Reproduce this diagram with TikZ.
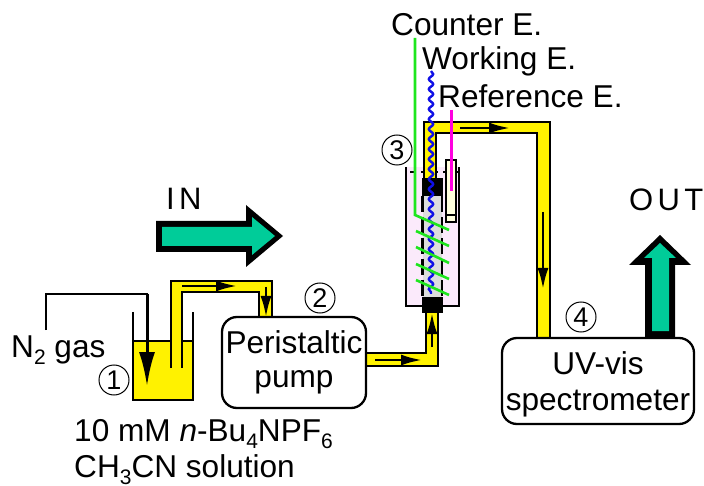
\documentclass[tikz,border=0pt]{standalone}
\usepackage{fontspec}
\setmainfont{Liberation Sans}
\newfontfamily\spacedA[LetterSpace=14]{Liberation Sans}
\usetikzlibrary{decorations.pathmorphing,arrows.meta}
\definecolor{teal1}{HTML}{00CC99}
\definecolor{pink1}{HTML}{FBEAFB}
\definecolor{cream}{HTML}{FFFFDD}
\definecolor{glass}{HTML}{DDDDDD}
\definecolor{coil}{HTML}{1EE61E}
\definecolor{wire}{HTML}{1010E6}
\definecolor{refw}{HTML}{FF00E0}
\newcommand{\subtxt}[1]{\raisebox{-7pt}{\fontsize{21}{21}\selectfont #1}}
\tikzset{
  x=1pt,y=-1pt,
  wall/.style={draw=black,line width=2.3pt},
  tubeedge/.style={draw=black,line width=2.4pt,line join=miter},
  flow/.style={draw=black,line width=2.6pt,-{Latex[length=21pt,width=11pt]}},
  lbl/.style={font=\fontsize{31.6}{32}\selectfont,inner sep=0pt,anchor=base west},
  lblc/.style={font=\fontsize{31.6}{32}\selectfont,inner sep=0pt,anchor=base},
  lbls/.style={font=\fontsize{31}{31}\selectfont,inner sep=0pt,anchor=base west},
  circ/.style={circle,draw=black,line width=1pt,minimum size=30pt,inner sep=0pt,font=\fontsize{27}{27}\selectfont},
  instrument/.style={draw=black,line width=2.3pt,rounded corners=15pt,fill=white},
  coilturn/.style={draw=coil,line width=2.6pt},
}
\begin{document}
\begin{tikzpicture}
\useasboundingbox (0,0) rectangle (704,486);
% beaker
\fill[yellow] (133,341) rectangle (193,400);
\draw[wall] (133,312) -- (133,400) -- (193,400) -- (193,312);
\draw[wall] (133,341) -- (193,341);
% first tube
\fill[yellow] (171,368) -- (171,281) -- (272,281) -- (272,320) -- (259,320) -- (259,292) -- (182,292) -- (182,368) -- cycle;
\draw[tubeedge] (171,368) -- (171,281) -- (272,281) -- (272,320);
\draw[tubeedge] (259,320) -- (259,292) -- (182,292) -- (182,368);
\draw[flow] (182,286) -- (237,286);
\draw[flow] (266,287) -- (266,317);
% gas line
\coordinate (gasstart) at (46,330);
\coordinate (gasend) at (147,386);
\draw[line width=2.2pt,line join=miter] (gasstart) -- (46,294) -- (147,294) -- (147,360);
\draw[line width=3pt,-{Latex[length=34pt,width=16pt]}] (147,294) -- (gasend);
% second tube
\fill[yellow] (362,353) -- (426,353) -- (426,310) -- (438,310) -- (438,366) -- (362,366) -- cycle;
\draw[tubeedge] (366,353) -- (426,353) -- (426,310);
\draw[tubeedge] (366,366) -- (438,366) -- (438,310);
\draw[flow] (375,360) -- (422,360);
\draw[flow] (432,347) -- (432,313);
% cell
\fill[pink1] (406,167) rectangle (459,306);
\fill[glass] (423,196) rectangle (442,297);
\draw[wall] (406,167) -- (406,306) -- (459,306) -- (459,167);
\draw[line width=2.3pt,dash pattern=on 6pt off 5pt] (410,172) -- (459,172);
\draw[line width=2.3pt,dash pattern=on 16pt off 5pt] (422.5,196) -- (422.5,297);
\draw[line width=2.3pt,dash pattern=on 16pt off 5pt] (442,196) -- (442,297);
% third tube
\fill[yellow] (424,178) -- (424,122) -- (550,122) -- (550,338) -- (537,338) -- (537,133) -- (436,133) -- (436,178) -- cycle;
\draw[tubeedge] (424,178) -- (424,122) -- (550,122) -- (550,338);
\draw[tubeedge] (436,178) -- (436,133) -- (537,133) -- (537,338);
\draw[flow] (460,128) -- (510,128);
\draw[flow] (543,212) -- (543,289);
% stoppers
\fill[black] (422,178) rectangle (443,196);
\fill[black] (422,297) rectangle (443,313);
% reference electrode
\draw[line width=2pt,fill=cream] (446,160) rectangle (456,222);
\draw[line width=2pt] (446,215) -- (456,215);
\draw[refw,line width=3pt] (451,110) -- (451,191);
% working electrode
\draw[wire,line width=2.4pt,decorate,decoration={snake,amplitude=2.2pt,segment length=10pt}] (431,71) -- (431,294);
% counter electrode
\draw[coilturn,line join=miter] (415,38) -- (415,215) -- (449,230);
\draw[coilturn] (416,231) -- (449,246);
\draw[coilturn] (416,247) -- (449,263);
\draw[coilturn] (416,264) -- (449,279);
\draw[coilturn] (416,280) -- (449,295);
% instruments
\draw[instrument] (222,317) rectangle (366,408);
\draw[instrument] (502,338) rectangle (694,424);
\node[lblc] (pumpa) at (294,353) {Peristaltic};
\node[lblc] (pumpb) at (294,387) {pump};
\node[lblc] (speca) at (598,374) {UV-vis};
\node[lblc] (specb) at (598,410) {spectrometer};
% in / out
\fill[black] (156,221) -- (246,221) -- (246,205) -- (283,236) -- (246,267) -- (246,252) -- (156,252) -- cycle;
\fill[teal1] (162,227) -- (252,227) -- (252,217) -- (275,236) -- (252,255) -- (252,246) -- (162,246) -- cycle;
\fill[black] (660,235) -- (691,265) -- (675,265) -- (675,337) -- (645,337) -- (645,265) -- (629,265) -- cycle;
\fill[teal1] (660,243) -- (676,258) -- (669,258) -- (669,331) -- (652,331) -- (652,258) -- (644,258) -- cycle;
\node[lbls] (intext) at (166,210) {\spacedA IN};
\node[lbls] (outtext) at (629,211) {\spacedA OUT};
% labels
\node[lbl] (ce) at (391,36) {Counter E.};
\node[lbl] (we) at (422,70) {Working E.};
\node[lbl] (re) at (438,108) {Reference E.};
\node[lbl] (gas) at (11,357) {N\subtxt{2} gas};
\node[lbl] (sol1) at (74,441) {10 mM \textit{n}-Bu\subtxt{4}NPF\subtxt{6}};
\node[lbl] (sol2) at (74,477.5) {CH\subtxt{3}CN solution};
\node[circ] (n1) at (114,380) {1};
\node[circ] (n2) at (320,298) {2};
\node[circ] (n3) at (397,150) {3};
\node[circ] (n4) at (581,317) {4};
\end{tikzpicture}
\end{document}
